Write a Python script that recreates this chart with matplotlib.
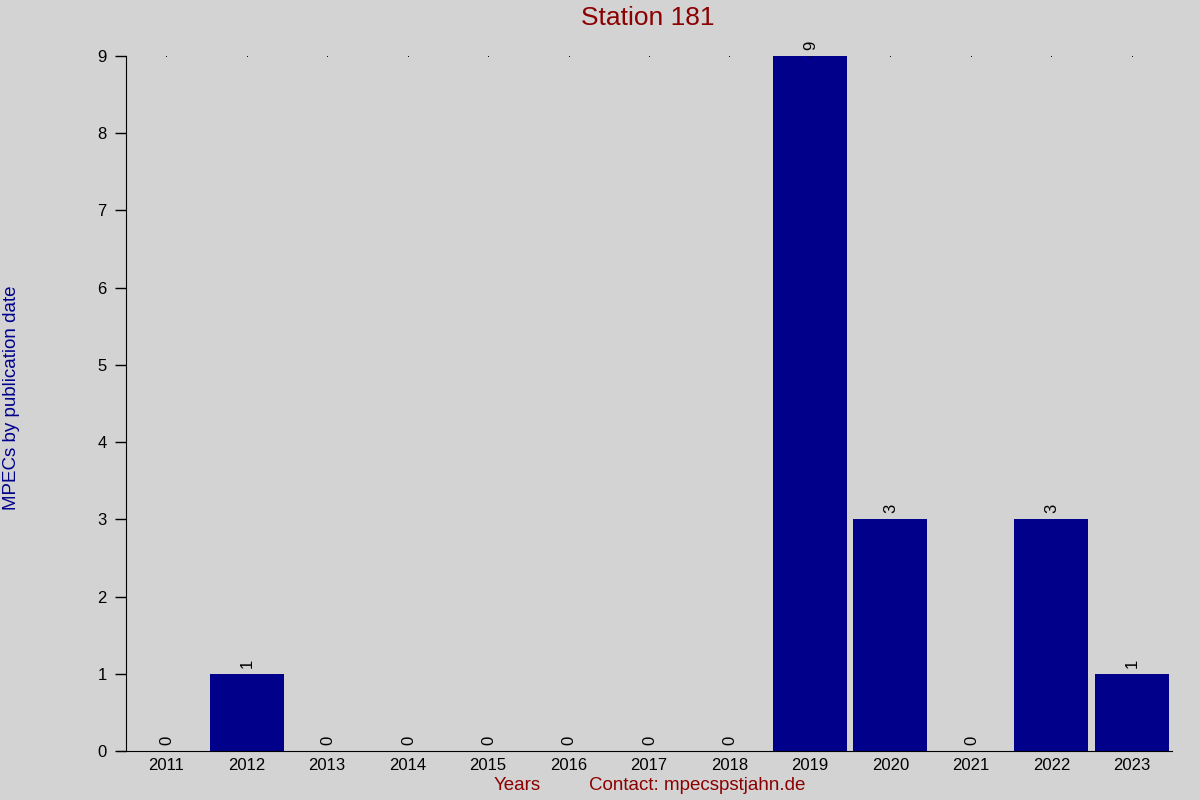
import matplotlib
matplotlib.use("Agg")
import matplotlib.pyplot as plt
import numpy as np

years = ["2011", "2012", "2013", "2014", "2015", "2016", "2017",
         "2018", "2019", "2020", "2021", "2022", "2023"]
counts = [0, 1, 0, 0, 0, 0, 0, 0, 9, 3, 0, 3, 1]
y_ticks = [0, 1, 2, 3, 4, 5, 6, 7, 8, 9]

plt.rcParams["font.family"] = ["Liberation Sans", "DejaVu Sans"]

fig = plt.figure(figsize=(12, 8), dpi=100, facecolor="#d3d3d3")
ax = fig.add_axes([0.105, 0.06125, 0.8717, 0.86875], facecolor="#d3d3d3")

x = np.arange(len(years))
ax.bar(x, counts, width=0.92, color="#00008b")

# tiny dots along the top
ax.plot(x, [max(y_ticks)] * len(x), linestyle="none", marker="s",
        markersize=0.6, color="black", markeredgewidth=0)

for xi, c in zip(x, counts):
    ax.text(xi + 0.01, c + 0.08, str(c), rotation=90, ha="center",
            va="bottom", fontsize=12, color="black")

ax.set_xlim(-0.5, len(years) - 0.5)
ax.set_ylim(0, 9)
ax.set_xticks(x)
ax.set_xticklabels(years, fontsize=12)
ax.set_yticks(y_ticks)
ax.tick_params(axis="x", length=0, pad=5)
ax.tick_params(axis="y", length=8, width=1, labelsize=12, pad=6)
ax.spines["top"].set_visible(False)
ax.spines["right"].set_visible(False)
ax.spines["bottom"].set_bounds(-0.5 - 8 / 80.5, len(years) - 0.5)

fig.text(0.54, 0.977, "Station 181", fontsize=19, color="#8b0000",
         ha="center", va="center")
fig.text(0.431, 0.0175, "Years", fontsize=13.5, color="#8b0000",
         ha="center", va="center")
fig.text(0.581, 0.0175, "Contact: mpecspstjahn.de", fontsize=13.5,
         color="#8b0000", ha="center", va="center")
fig.text(0.0095, 0.503, "MPECs by publication date", fontsize=13.5,
         color="#00008b", rotation=90, va="center", ha="center")

fig.savefig("out.png", dpi=100, facecolor=fig.get_facecolor())
